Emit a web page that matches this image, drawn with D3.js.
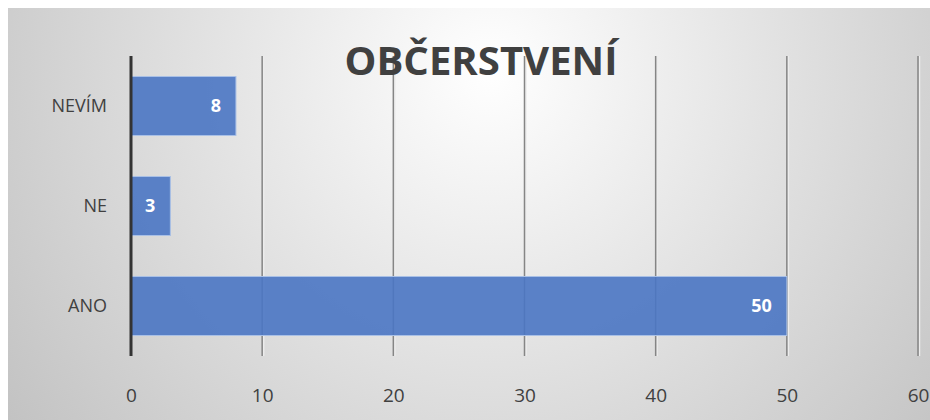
<!DOCTYPE html>
<html>
<head>
<meta charset="utf-8">
<script src="https://cdn.jsdelivr.net/npm/d3@7"></script>
<style>
  body { margin: 0; background: #fff; }
  text { font-family: "Open Sans", "DejaVu Sans", sans-serif; }
</style>
</head>
<body>
<div id="chart"></div>
<script>
const categories = ["ANO", "NE", "NEVÍM"];
const values = [50, 3, 8];
const xTicks = [0, 10, 20, 30, 40, 50, 60];
const title = "OBČERSTVENÍ";

const width = 930, height = 420;
const margin = {left: 131, right: 12, top: 56, bottom: 64};

const svg = d3.select("#chart").append("svg")
  .attr("width", width).attr("height", height);

const defs = svg.append("defs");
const grad = defs.append("radialGradient").attr("id", "bg")
  .attr("gradientUnits", "userSpaceOnUse")
  .attr("cx", 490).attr("cy", 70).attr("r", 600);
grad.append("stop").attr("offset", "0%").attr("stop-color", "#ffffff");
grad.append("stop").attr("offset", "100%").attr("stop-color", "#c2c2c2");

svg.append("rect")
  .attr("x", 8).attr("y", 8).attr("width", width - 8).attr("height", height - 8)
  .attr("fill", "url(#bg)");

const x = d3.scaleLinear().domain([0, 60]).range([margin.left, 918]);
const y = d3.scaleBand().domain(categories.slice().reverse())
  .range([margin.top, height - margin.bottom]).paddingInner(0.41).paddingOuter(0.205);

// gridlines
const grid = svg.append("g");
grid.selectAll("line.shadow")
  .data(xTicks.slice(1)).enter()
  .append("line")
  .attr("x1", d => x(d) + 1.5).attr("x2", d => x(d) + 1.5)
  .attr("y1", margin.top).attr("y2", height - margin.bottom)
  .attr("stroke", "#ececec").attr("stroke-width", 1.5);
grid.selectAll("line.grid")
  .data(xTicks.slice(1)).enter()
  .append("line")
  .attr("x1", d => x(d)).attr("x2", d => x(d))
  .attr("y1", margin.top).attr("y2", height - margin.bottom)
  .attr("stroke", "#858585").attr("stroke-width", 1.5);

// title
svg.append("text")
  .attr("x", 481).attr("y", 75)
  .attr("text-anchor", "middle")
  .attr("font-size", 39).attr("font-weight", "bold")
  .attr("fill", "#404040")
  .attr("textLength", 273).attr("lengthAdjust", "spacingAndGlyphs")
  .text(title);

// bars
const data = categories.map((c, i) => ({cat: c, val: values[i]}));
svg.append("g").selectAll("rect")
  .data(data).enter()
  .append("rect")
  .attr("x", x(0))
  .attr("y", d => y(d.cat))
  .attr("width", d => x(d.val) - x(0))
  .attr("height", y.bandwidth())
  .attr("fill", "#4a76c3").attr("fill-opacity", 0.9)
  .attr("stroke", "#a9c0e6").attr("stroke-width", 1);

// value labels
svg.append("g").selectAll("text")
  .data(data).enter()
  .append("text")
  .attr("x", d => x(d.val) - 15)
  .attr("y", d => y(d.cat) + y.bandwidth() / 2)
  .attr("dy", "0.36em")
  .attr("text-anchor", "end")
  .attr("font-size", 18).attr("font-weight", "bold")
  .attr("fill", "#ffffff")
  .text(d => d.val);

// y axis line
svg.append("line")
  .attr("x1", x(0)).attr("x2", x(0))
  .attr("y1", margin.top).attr("y2", height - margin.bottom)
  .attr("stroke", "#333333").attr("stroke-width", 3);

// category labels
const yAxis = svg.append("g")
  .attr("transform", `translate(${x(0) - 24},0)`)
  .call(d3.axisLeft(y).tickSize(0).tickPadding(0));
yAxis.select(".domain").remove();
yAxis.selectAll("text")
  .attr("font-size", 18).attr("fill", "#404040")
  .style("font-family", "'Open Sans', sans-serif");

// x tick labels
const xAxis = svg.append("g")
  .attr("transform", `translate(0,${height - margin.bottom})`)
  .call(d3.axisBottom(x).tickValues(xTicks).tickSize(0).tickPadding(33));
xAxis.select(".domain").remove();
xAxis.selectAll("text")
  .attr("font-size", 19).attr("fill", "#404040")
  .style("font-family", "'Open Sans', sans-serif");
</script>
</body>
</html>
